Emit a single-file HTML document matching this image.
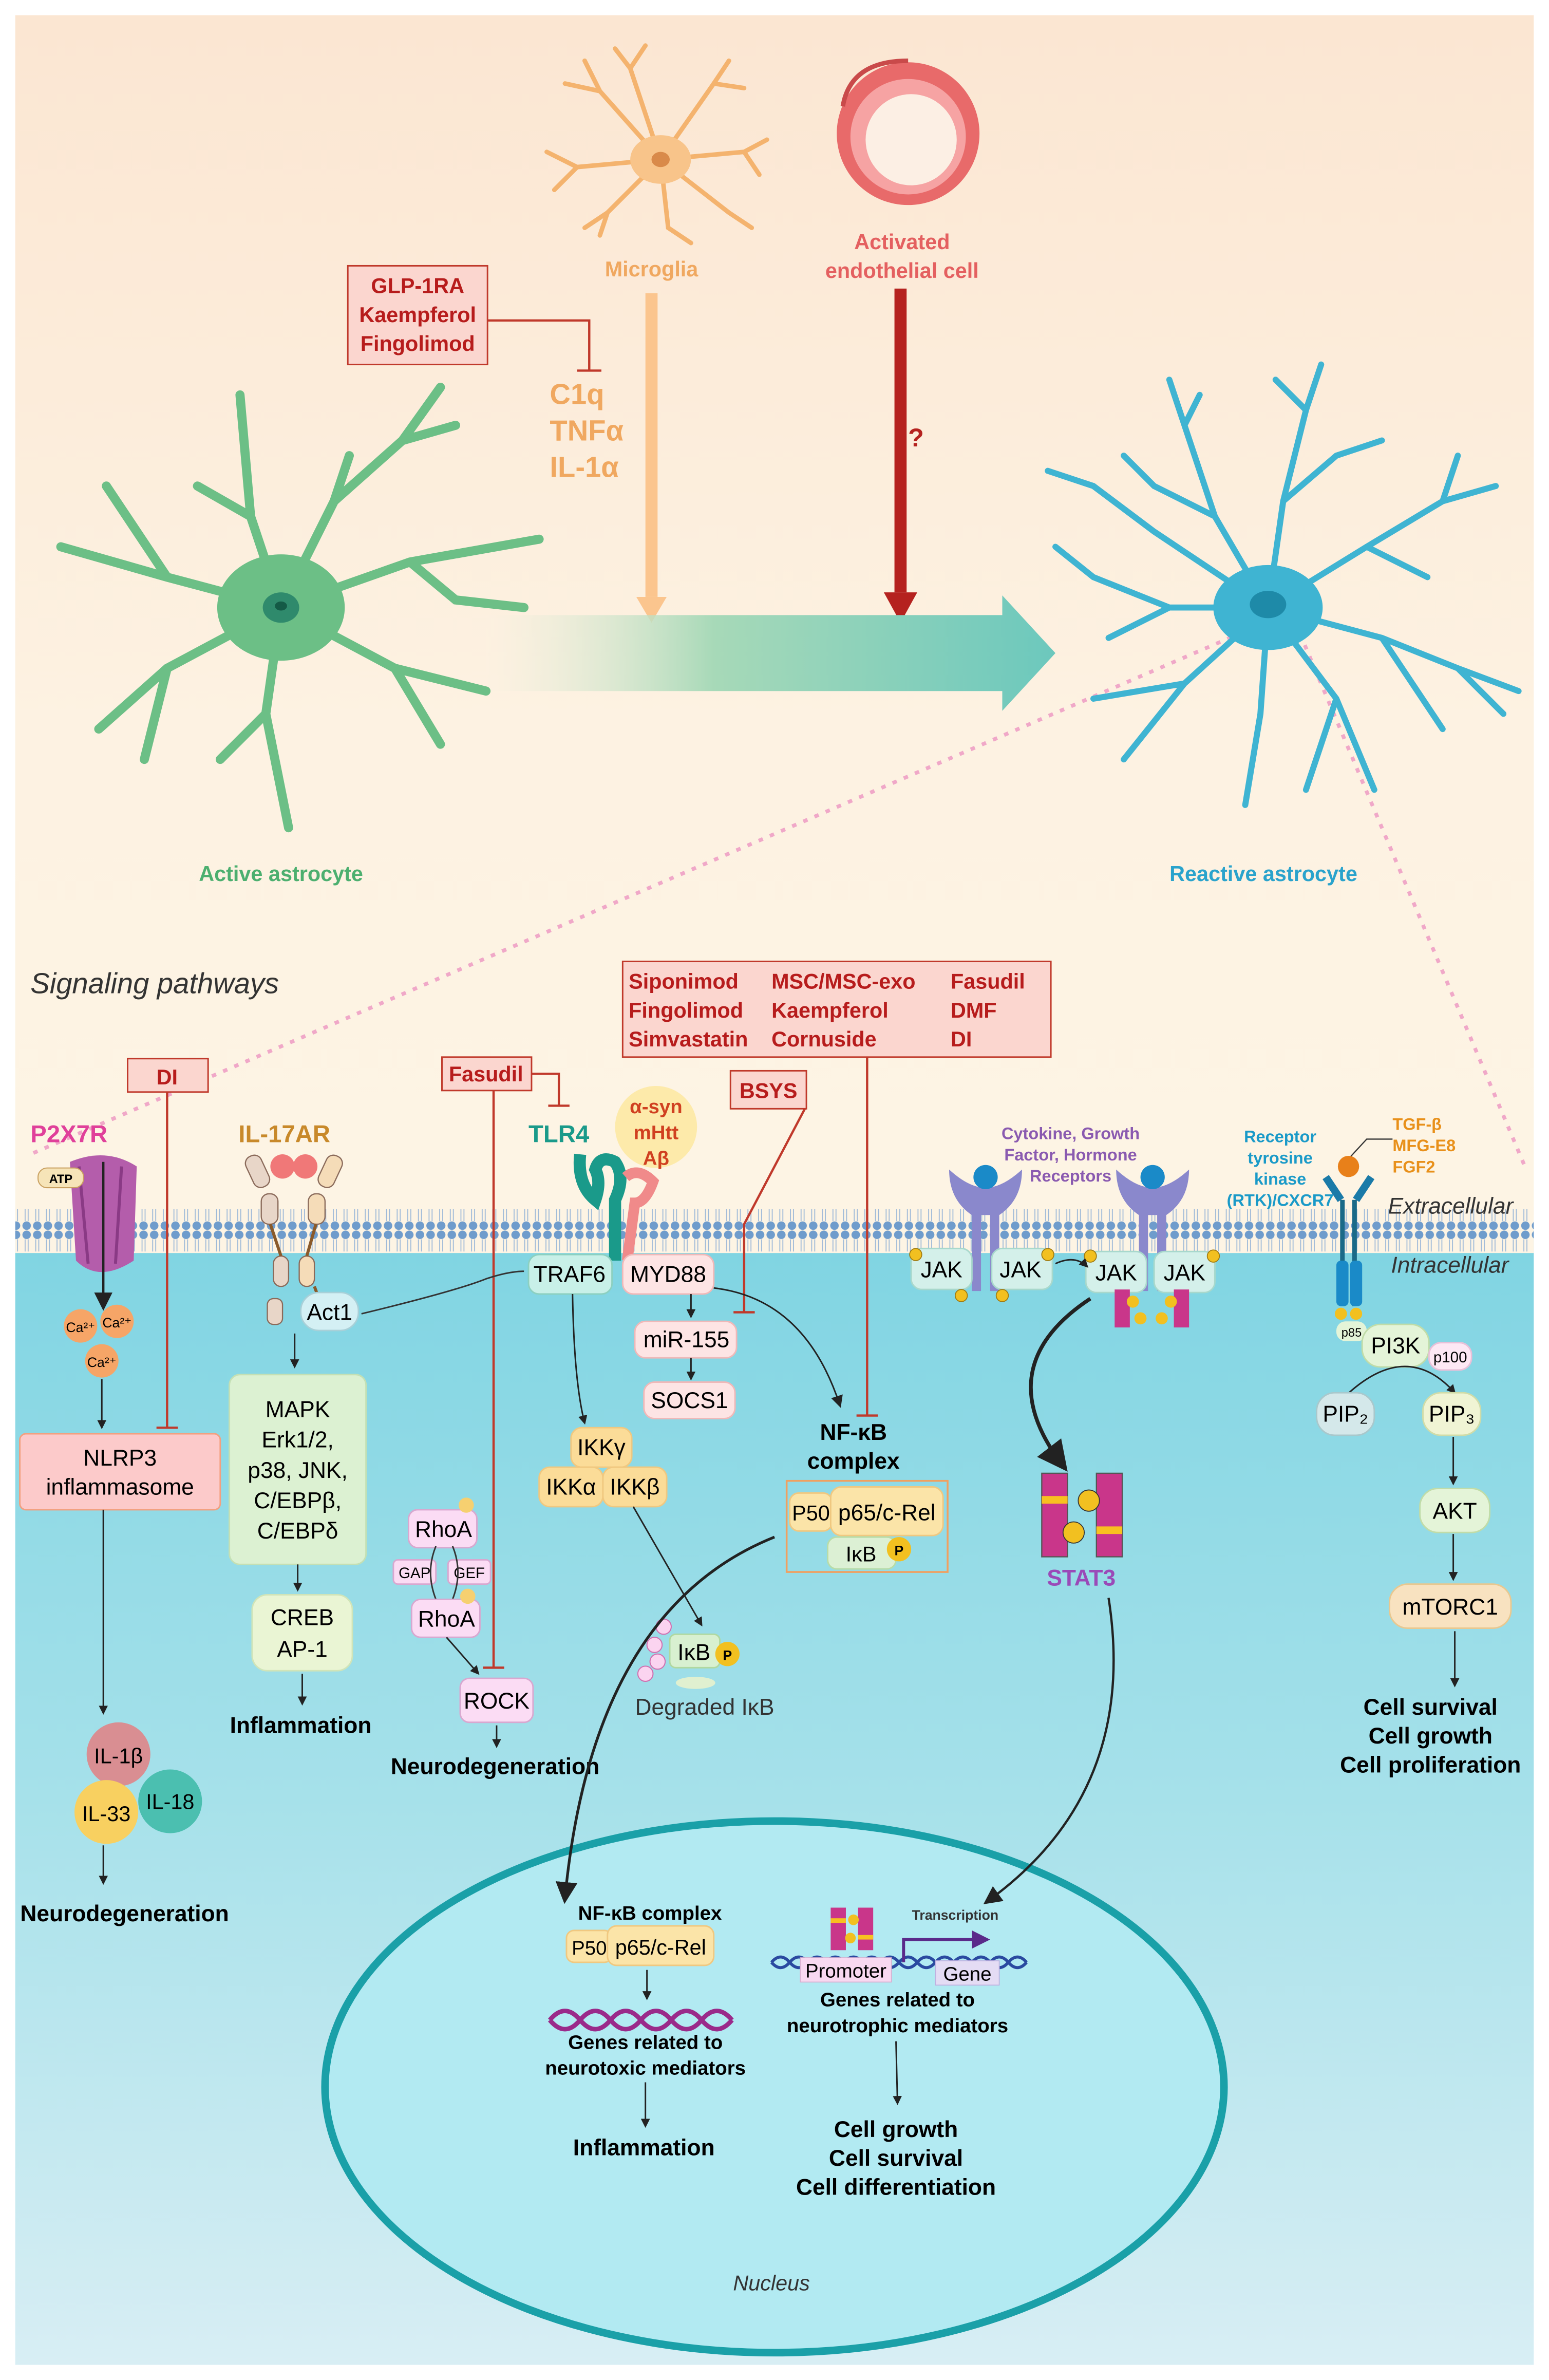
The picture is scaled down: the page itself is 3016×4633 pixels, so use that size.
<!DOCTYPE html>
<html><head><meta charset="utf-8"><style>
html,body{margin:0;padding:0;background:#fff;}
svg{display:block;}
text{font-family:"Liberation Sans",Arial,sans-serif;}
.b{font-weight:bold;}
</style></head><body>
<svg width="3016" height="4633" viewBox="0 0 1020 1567" xmlns="http://www.w3.org/2000/svg">
<defs>
<linearGradient id="bgTop" x1="0" y1="0" x2="0" y2="1">
<stop offset="0" stop-color="#fbe6d2"/><stop offset="0.6" stop-color="#fdf2e2"/><stop offset="1" stop-color="#fdf4e4"/></linearGradient>
<linearGradient id="bgBot" x1="0" y1="0" x2="0" y2="1">
<stop offset="0" stop-color="#7fd4e2"/><stop offset="0.5" stop-color="#a6e1ea"/><stop offset="1" stop-color="#d8eef4"/></linearGradient>
<linearGradient id="bigArr" x1="0" y1="0" x2="1" y2="0">
<stop offset="0" stop-color="#fdf2e2" stop-opacity="0.3"/><stop offset="0.4" stop-color="#a7d9b8"/><stop offset="1" stop-color="#6cc8bd"/></linearGradient>
<marker id="ah" markerWidth="8" markerHeight="8" refX="6" refY="4" orient="auto"><path d="M0,0 L8,4 L0,8 Z" fill="#222"/></marker>
<marker id="ahb" markerWidth="6" markerHeight="6" refX="5" refY="3" orient="auto"><path d="M0,0 L6,3 L0,6 Z" fill="#222"/></marker>
<marker id="ahp" markerWidth="6" markerHeight="6" refX="5" refY="3" orient="auto"><path d="M0,0 L6,3 L0,6 Z" fill="#5a2a8a"/></marker>
<pattern id="lip" width="7" height="30" patternUnits="userSpaceOnUse">
<circle cx="3.5" cy="3" r="2.8" fill="#6f9ccc"/><circle cx="3.5" cy="27" r="2.8" fill="#6f9ccc"/>
<path d="M2.5,6 L2.5,14 M4.5,6 L4.5,14 M2.5,16 L2.5,24 M4.5,16 L4.5,24" stroke="#9cb8d8" stroke-width="0.6"/>
</pattern>
</defs>
<rect width="1020" height="1567" fill="#fff"/>
<rect x="10" y="10" width="1000" height="790" fill="url(#bgTop)"/>
<rect x="10" y="810" width="1000" height="747" fill="url(#bgBot)"/>
<rect x="10" y="795" width="1000" height="30" fill="#fdf4e4"/>
<rect x="10" y="795" width="1000" height="30" fill="url(#lip)"/>

<path d="M833,410 L20,760" stroke="#f0a8c8" stroke-width="2.5" stroke-dasharray="3,5" fill="none"/>
<path d="M853,410 L1005,770" stroke="#f0a8c8" stroke-width="2.5" stroke-dasharray="3,5" fill="none"/>
<rect x="817" y="388" width="35" height="32" fill="#c8c8ea" opacity="0.6" stroke="#e39acb" stroke-dasharray="2,2"/>

<g stroke="#f4b36e" stroke-width="3" fill="none" stroke-linecap="round">
<path d="M435,105 L395,60 L385,40 M395,60 L372,55 M435,105 L415,45 L405,32 M415,45 L425,30 M435,105 L470,55 L480,40 M470,55 L490,58 M435,105 L490,100 L505,92 M490,100 L500,115 M435,105 L480,140 L495,150 M435,105 L400,140 L385,150 M400,140 L395,155 M435,105 L380,110 L360,100 M380,110 L365,125 M435,105 L440,150 L455,160"/>
</g>
<ellipse cx="435" cy="105" rx="20" ry="16" fill="#f8c48a"/>
<ellipse cx="435" cy="105" rx="6" ry="5" fill="#d98a4a"/>
<text x="429" y="182" font-size="14" fill="#f0a860" text-anchor="middle" class="b">Microglia</text>
<ellipse cx="598" cy="88" rx="47" ry="47" fill="#e86a6a"/>
<ellipse cx="598" cy="90" rx="38" ry="38" fill="#f6a3a3"/>
<ellipse cx="600" cy="92" rx="30" ry="30" fill="#fcefe4"/>
<path d="M555,70 Q560,40 598,40" stroke="#c94a4a" stroke-width="3" fill="none"/>
<text x="594" y="164" font-size="14" fill="#e46060" text-anchor="middle" class="b">Activated</text>
<text x="594" y="183" font-size="14" fill="#e46060" text-anchor="middle" class="b">endothelial cell</text>
<rect x="229" y="175" width="92" height="65" fill="#fbd6cf" stroke="#c0392b" stroke-width="1"/>
<text x="275" y="193" font-size="14" fill="#b71c1c" text-anchor="middle" class="b">GLP-1RA</text>
<text x="275" y="212" font-size="14" fill="#b71c1c" text-anchor="middle" class="b">Kaempferol</text>
<text x="275" y="231" font-size="14" fill="#b71c1c" text-anchor="middle" class="b">Fingolimod</text>
<path d="M321,211 L388,211 L388,244 M380,244 L396,244" stroke="#c0392b" stroke-width="1.5" fill="none"/>
<text x="362" y="266" font-size="19" fill="#f0a860" class="b">C1q</text>
<text x="362" y="290" font-size="19" fill="#f0a860" class="b">TNFα</text>
<text x="362" y="314" font-size="19" fill="#f0a860" class="b">IL-1α</text>
<rect x="425" y="193" width="8" height="200" fill="#fbc58e"/>
<path d="M419,393 L439,393 L429,410 Z" fill="#fbc58e"/>
<rect x="589" y="190" width="8" height="200" fill="#b5221f"/>
<path d="M582,390 L604,390 L593,410 Z" fill="#b5221f"/>
<text x="598" y="294" font-size="17" fill="#b5221f" class="b">?</text>
<path d="M320,405 L660,405 L660,392 L695,430 L660,468 L660,455 L320,455 Z" fill="url(#bigArr)"/>

<g stroke="#6cbf86" stroke-linecap="round" fill="none">
<path d="M185,400 L165,340 L158,260 M165,340 L130,320 M185,400 L220,330 L265,290 L300,280 M265,290 L290,255 M220,330 L230,300 M185,400 L270,370 L355,355 M270,370 L300,395 L345,400 M185,400 L260,440 L290,490 M260,440 L320,455 M185,400 L175,470 L190,545 M175,470 L145,500 M185,400 L110,440 L65,480 M110,440 L95,500 M185,400 L110,380 L40,360 M110,380 L70,320" stroke-width="6"/>
</g>
<ellipse cx="185" cy="400" rx="42" ry="35" fill="#6cbf86"/>
<ellipse cx="185" cy="400" rx="12" ry="10" fill="#2f8a6c"/>
<ellipse cx="185" cy="399" rx="4" ry="3" fill="#145a46"/>
<text x="185" y="580" font-size="14" fill="#4caf6f" text-anchor="middle" class="b">Active astrocyte</text>

<g stroke="#3fb4d2" stroke-linecap="round" fill="none" stroke-width="4">
<path d="M835,400 L800,340 L780,280 L770,250 M800,340 L760,320 L740,300 M780,280 L790,260 M835,400 L845,330 L860,270 L870,240 M845,330 L880,300 L910,290 M860,270 L840,250 M835,400 L900,360 L950,330 L985,320 M900,360 L940,380 M950,330 L960,300 M835,400 L910,420 L960,440 L1000,455 M910,420 L950,480 M960,440 L990,470 M835,400 L880,460 L905,520 M880,460 L860,520 M835,400 L830,470 L820,530 M835,400 L780,450 L740,500 M780,450 L720,460 M835,400 L770,400 L720,380 L695,360 M770,400 L730,420 M835,400 L760,350 L720,320 L690,310 M760,350 L740,335"/>
</g>
<ellipse cx="835" cy="400" rx="36" ry="28" fill="#3fb4d2"/>
<ellipse cx="835" cy="398" rx="12" ry="9" fill="#1e8aa8"/>
<text x="832" y="580" font-size="14" fill="#2aa3cc" text-anchor="middle" class="b">Reactive astrocyte</text>

<text x="20" y="654" font-size="19" fill="#333" font-style="italic">Signaling pathways</text>

<rect x="410" y="633" width="282" height="63" fill="#fbd6cf" stroke="#c0392b" stroke-width="1"/>
<g font-size="14" fill="#b71c1c" font-weight="bold">
<text x="414" y="651">Siponimod</text><text x="414" y="670">Fingolimod</text><text x="414" y="689">Simvastatin</text>
<text x="508" y="651">MSC/MSC-exo</text><text x="508" y="670">Kaempferol</text><text x="508" y="689">Cornuside</text>
<text x="626" y="651">Fasudil</text><text x="626" y="670">DMF</text><text x="626" y="689">DI</text>
</g>
<path d="M571,696 L571,932 M564,932 L578,932" stroke="#c0392b" stroke-width="1.5"/>
<rect x="84" y="697" width="53" height="22" fill="#fbd6cf" stroke="#c0392b"/>
<text x="110" y="714" font-size="14" fill="#b71c1c" text-anchor="middle" class="b">DI</text>
<path d="M110,719 L110,940 M103,940 L117,940" stroke="#c0392b" stroke-width="1.5"/>
<rect x="291" y="696" width="59" height="22" fill="#fbd6cf" stroke="#c0392b"/>
<text x="320" y="712" font-size="14" fill="#b71c1c" text-anchor="middle" class="b">Fasudil</text>
<path d="M325,718 L325,1098 M318,1098 L332,1098" stroke="#c0392b" stroke-width="1.5"/>
<path d="M350,707 L368,707 L368,728 M361,728 L375,728" stroke="#c0392b" stroke-width="1.5" fill="none"/>
<rect x="481" y="705" width="50" height="25" fill="#fbd6cf" stroke="#c0392b"/>
<text x="506" y="723" font-size="14" fill="#b71c1c" text-anchor="middle" class="b">BSYS</text>
<path d="M530,730 L490,806 L490,864 M483,864 L497,864" stroke="#c0392b" stroke-width="1.5" fill="none"/>

<text x="20" y="752" font-size="16" fill="#e0409a" class="b">P2X7R</text>
<path d="M46,765 Q70,755 90,768 L88,830 Q65,845 50,830 Z" fill="#b45dab"/>
<path d="M52,768 L58,832 M80,768 L76,832" stroke="#8a3a85" stroke-width="2"/>
<rect x="25" y="769" width="30" height="13" rx="6" fill="#f6e4b8" stroke="#c9a060" stroke-width="0.7"/>
<text x="40" y="779" font-size="8" text-anchor="middle" class="b">ATP</text>
<path d="M68,765 L68,860" stroke="#222" stroke-width="1.5" marker-end="url(#ah)"/>
<circle cx="53" cy="873" r="11" fill="#f6a567"/><circle cx="77" cy="870" r="11" fill="#f6a567"/><circle cx="67" cy="896" r="11" fill="#f6a567"/>
<text x="53" y="877" font-size="9" text-anchor="middle">Ca²⁺</text><text x="77" y="874" font-size="9" text-anchor="middle">Ca²⁺</text><text x="67" y="900" font-size="9" text-anchor="middle">Ca²⁺</text>
<path d="M67,908 L67,940" stroke="#222" marker-end="url(#ahb)"/>
<rect x="13" y="944" width="132" height="50" rx="4" fill="#fccaca" stroke="#f2a080"/>
<text x="79" y="965" font-size="15" text-anchor="middle">NLRP3</text>
<text x="79" y="984" font-size="15" text-anchor="middle">inflammasome</text>
<path d="M68,994 L68,1128" stroke="#222" marker-end="url(#ahb)"/>
<circle cx="78" cy="1155" r="21" fill="#d98e92"/>
<circle cx="112" cy="1186" r="21" fill="#4bbfb0"/>
<circle cx="70" cy="1193" r="21" fill="#f8d060"/>
<text x="78" y="1161" font-size="14" text-anchor="middle">IL-1β</text>
<text x="112" y="1191" font-size="14" text-anchor="middle">IL-18</text>
<text x="70" y="1199" font-size="14" text-anchor="middle">IL-33</text>
<path d="M68,1215 L68,1240" stroke="#222" marker-end="url(#ahb)"/>
<text x="82" y="1265" font-size="15" text-anchor="middle" class="b">Neurodegeneration</text>

<text x="157" y="752" font-size="16" fill="#c8892a" class="b">IL-17AR</text>
<g fill="#e8d6c8" stroke="#8a6a5a" stroke-width="0.8">
<rect x="164" y="760" width="11" height="22" rx="5" transform="rotate(-25 170 771)"/>
<rect x="212" y="760" width="11" height="22" rx="5" fill="#f5dcb8" transform="rotate(25 217 771)"/>
<rect x="172" y="786" width="11" height="20" rx="5"/>
<rect x="203" y="786" width="11" height="20" rx="5" fill="#f5dcb8"/>
<rect x="180" y="827" width="10" height="20" rx="5"/>
<rect x="197" y="827" width="10" height="20" rx="5" fill="#f5dcb8"/>
<rect x="176" y="855" width="10" height="17" rx="4"/>
</g>
<circle cx="186" cy="768" r="8" fill="#f07878"/><circle cx="201" cy="768" r="8" fill="#f07878"/>
<path d="M178,806 L185,827 M208,806 L202,827 M207,847 L210,855" stroke="#8a5a2a" stroke-width="2"/>
<rect x="198" y="851" width="38" height="25" rx="12" fill="#d4f0f4" stroke="#a8d0d8"/>
<text x="217" y="869" font-size="15" text-anchor="middle">Act1</text>
<path d="M194,878 L194,900" stroke="#222" marker-end="url(#ahb)"/>
<rect x="151" y="905" width="90" height="125" rx="7" fill="#dcf1d2" stroke="#c4e0b4"/>
<g font-size="15" text-anchor="middle"><text x="196" y="933">MAPK</text><text x="196" y="953">Erk1/2,</text><text x="196" y="973">p38, JNK,</text><text x="196" y="993">C/EBPβ,</text><text x="196" y="1013">C/EBPδ</text></g>
<path d="M196,1030 L196,1047" stroke="#222" marker-end="url(#ahb)"/>
<rect x="166" y="1050" width="66" height="50" rx="10" fill="#eaf5d4" stroke="#d0e4b8"/>
<text x="199" y="1070" font-size="15" text-anchor="middle">CREB</text><text x="199" y="1091" font-size="15" text-anchor="middle">AP-1</text>
<path d="M199,1102 L199,1122" stroke="#222" marker-end="url(#ahb)"/>
<text x="198" y="1141" font-size="15" text-anchor="middle" class="b">Inflammation</text>
<path d="M238,865 Q300,850 320,842 Q335,837 345,837" stroke="#333" fill="none"/>

<text x="348" y="752" font-size="16" fill="#1a9a8a" class="b">TLR4</text>
<circle cx="432" cy="742" r="27" fill="#fde7a0" opacity="0.85"/>
<text x="432" y="733" font-size="13" fill="#d04020" text-anchor="middle" class="b">α-syn</text>
<text x="432" y="750" font-size="13" fill="#d04020" text-anchor="middle" class="b">mHtt</text>
<text x="432" y="767" font-size="13" fill="#d04020" text-anchor="middle" class="b">Aβ</text>
<path d="M382,760 Q380,780 392,790 Q396,778 392,770 Q395,760 405,765 Q412,775 405,790 L405,830" stroke="#1a9a8a" stroke-width="8" fill="none"/>
<path d="M412,775 Q420,768 430,778 Q425,792 418,792 L413,830" stroke="#f08a8a" stroke-width="7" fill="none"/>
<rect x="348" y="826" width="55" height="26" rx="7" fill="#c8f0e8" stroke="#8cd0c0"/>
<text x="375" y="844" font-size="15" text-anchor="middle">TRAF6</text>
<rect x="410" y="826" width="60" height="26" rx="7" fill="#fde4e4" stroke="#f0b8b8"/>
<text x="440" y="844" font-size="15" text-anchor="middle">MYD88</text>
<path d="M455,852 L455,867" stroke="#222" marker-end="url(#ahb)"/>
<rect x="418" y="870" width="67" height="24" rx="7" fill="#fde4e4" stroke="#f0b8b8"/>
<text x="452" y="887" font-size="15" text-anchor="middle">miR-155</text>
<path d="M455,894 L455,908" stroke="#222" marker-end="url(#ahb)"/>
<rect x="424" y="910" width="60" height="24" rx="7" fill="#fde4e4" stroke="#f0b8b8"/>
<text x="454" y="927" font-size="15" text-anchor="middle">SOCS1</text>
<path d="M470,848 Q530,855 553,925" stroke="#222" fill="none" marker-end="url(#ah)"/>
<path d="M377,852 Q378,910 385,937" stroke="#222" fill="none" marker-end="url(#ahb)"/>
<rect x="376" y="940" width="40" height="26" rx="7" fill="#fbdc98" stroke="#f0c880"/>
<text x="396" y="958" font-size="15" text-anchor="middle">IKKγ</text>
<rect x="355" y="966" width="42" height="26" rx="7" fill="#fbdc98" stroke="#f0c880"/>
<rect x="397" y="966" width="42" height="26" rx="7" fill="#fbdc98" stroke="#f0c880"/>
<text x="376" y="984" font-size="15" text-anchor="middle">IKKα</text><text x="418" y="984" font-size="15" text-anchor="middle">IKKβ</text>
<path d="M417,992 L462,1070" stroke="#222" fill="none" marker-end="url(#ahb)"/>
<rect x="441" y="1076" width="33" height="22" rx="4" fill="#d8f0d0" stroke="#b0d8a0"/>
<text x="457" y="1093" font-size="15" text-anchor="middle">IκB</text>
<circle cx="479" cy="1089" r="8" fill="#f2c020"/><text x="479" y="1093" font-size="9" text-anchor="middle" class="b">P</text>
<g fill="#fbd4f0" stroke="#d070b0" stroke-width="0.7"><circle cx="437" cy="1071" r="5"/><circle cx="431" cy="1083" r="5"/><circle cx="433" cy="1094" r="5"/><circle cx="425" cy="1102" r="5"/></g>
<ellipse cx="458" cy="1108" rx="13" ry="4" fill="#e0f0d0"/>
<text x="464" y="1129" font-size="15" text-anchor="middle" fill="#333">Degraded IκB</text>

<rect x="269" y="994" width="45" height="25" rx="6" fill="#fbdcf4" stroke="#d8a8d0"/>
<text x="292" y="1012" font-size="15" text-anchor="middle">RhoA</text>
<circle cx="307" cy="991" r="5" fill="#f6d070"/>
<rect x="259" y="1027" width="28" height="16" rx="3" fill="#fbdcf4" stroke="#d8a8d0"/>
<text x="273" y="1039" font-size="10" text-anchor="middle">GAP</text>
<rect x="295" y="1027" width="28" height="16" rx="3" fill="#fbdcf4" stroke="#d8a8d0"/>
<text x="309" y="1039" font-size="10" text-anchor="middle">GEF</text>
<path d="M287,1053 Q280,1035 287,1018 M298,1018 Q305,1035 298,1053" stroke="#333" fill="none"/>
<rect x="271" y="1053" width="45" height="25" rx="6" fill="#fbdcf4" stroke="#d8a8d0"/>
<text x="294" y="1071" font-size="15" text-anchor="middle">RhoA</text>
<circle cx="308" cy="1051" r="5" fill="#f6d070"/>
<path d="M294,1078 L315,1102" stroke="#222" marker-end="url(#ahb)"/>
<rect x="303" y="1105" width="48" height="29" rx="6" fill="#fbdcf4" stroke="#d8a8d0"/>
<text x="327" y="1125" font-size="15" text-anchor="middle">ROCK</text>
<path d="M327,1136 L327,1150" stroke="#222" marker-end="url(#ahb)"/>
<text x="326" y="1168" font-size="15" text-anchor="middle" class="b">Neurodegeneration</text>

<text x="562" y="948" font-size="15" text-anchor="middle" class="b">NF-κB</text>
<text x="562" y="967" font-size="15" text-anchor="middle" class="b">complex</text>
<rect x="518" y="975" width="106" height="60" fill="none" stroke="#f0a060" stroke-width="1.2"/>
<rect x="520" y="983" width="28" height="25" rx="6" fill="#fbe4a8" stroke="#f0c880"/>
<text x="534" y="1001" font-size="14" text-anchor="middle">P50</text>
<rect x="547" y="979" width="74" height="32" rx="7" fill="#fbe4a8" stroke="#f0c880"/>
<text x="584" y="1001" font-size="15" text-anchor="middle">p65/c-Rel</text>
<rect x="545" y="1012" width="45" height="21" rx="6" fill="#dcf0d4" stroke="#b8dca8"/>
<text x="567" y="1028" font-size="14" text-anchor="middle">IκB</text>
<circle cx="592" cy="1020" r="8" fill="#f2c020"/><text x="592" y="1024" font-size="9" text-anchor="middle" class="b">P</text>

<text x="705" y="750" font-size="11" fill="#8a5ab0" text-anchor="middle" class="b">Cytokine, Growth</text>
<text x="705" y="764" font-size="11" fill="#8a5ab0" text-anchor="middle" class="b">Factor, Hormone</text>
<text x="705" y="778" font-size="11" fill="#8a5ab0" text-anchor="middle" class="b">Receptors</text>
<g fill="#8a88cc">
<path d="M625,770 Q625,790 640,800 L640,850 L646,850 L646,800 L652,800 L652,850 L658,850 L658,800 Q673,790 673,770 Q660,782 649,782 Q638,782 625,770 Z"/>
<path d="M735,770 Q735,790 750,800 L750,850 L756,850 L756,800 L762,800 L762,850 L768,850 L768,800 Q783,790 783,770 Q770,782 759,782 Q748,782 735,770 Z"/>
</g>
<circle cx="649" cy="775" r="8" fill="#1a8ac8"/><circle cx="759" cy="775" r="8" fill="#1a8ac8"/>
<g fill="#d4f0ea" stroke="#a8d8cc"><rect x="600" y="822" width="40" height="27" rx="7"/><rect x="653" y="822" width="40" height="27" rx="7"/><rect x="715" y="824" width="40" height="27" rx="7"/><rect x="760" y="824" width="40" height="27" rx="7"/></g>
<g font-size="15" text-anchor="middle"><text x="620" y="841">JAK</text><text x="672" y="841">JAK</text><text x="735" y="843">JAK</text><text x="780" y="843">JAK</text></g>
<g fill="#f2c020" stroke="#a07a10" stroke-width="0.6"><circle cx="603" cy="826" r="4"/><circle cx="690" cy="826" r="4"/><circle cx="718" cy="827" r="4"/><circle cx="799" cy="827" r="4"/><circle cx="633" cy="853" r="4"/><circle cx="660" cy="853" r="4"/></g>
<path d="M695,832 Q708,826 716,834" stroke="#222" fill="none" marker-end="url(#ahb)"/>
<rect x="734" y="849" width="10" height="25" fill="#c9368a"/><rect x="773" y="849" width="10" height="25" fill="#c9368a"/>
<g fill="#f2c020"><circle cx="746" cy="857" r="4"/><circle cx="771" cy="857" r="4"/><circle cx="751" cy="868" r="4"/><circle cx="765" cy="868" r="4"/></g>
<path d="M718,855 Q650,900 700,965" stroke="#222" stroke-width="2.5" fill="none" marker-end="url(#ah)"/>
<rect x="686" y="970" width="17" height="55" fill="#c9368a" stroke="#555" stroke-width="0.8"/>
<rect x="722" y="970" width="17" height="55" fill="#c9368a" stroke="#555" stroke-width="0.8"/>
<rect x="686" y="985" width="17" height="5" fill="#f8c020"/><rect x="722" y="1005" width="17" height="5" fill="#f8c020"/>
<circle cx="717" cy="988" r="7" fill="#f2c020" stroke="#333" stroke-width="0.6"/><circle cx="707" cy="1009" r="7" fill="#f2c020" stroke="#333" stroke-width="0.6"/>
<text x="712" y="1044" font-size="15" fill="#9a4ab8" text-anchor="middle" class="b">STAT3</text>

<text x="843" y="752" font-size="11" fill="#1a9ac8" text-anchor="middle" class="b">Receptor</text>
<text x="843" y="766" font-size="11" fill="#1a9ac8" text-anchor="middle" class="b">tyrosine</text>
<text x="843" y="780" font-size="11" fill="#1a9ac8" text-anchor="middle" class="b">kinase</text>
<text x="843" y="794" font-size="11" fill="#1a9ac8" text-anchor="middle" class="b">(RTK)/CXCR7</text>
<text x="917" y="744" font-size="11" fill="#e8901a" class="b">TGF-β</text>
<text x="917" y="758" font-size="11" fill="#e8901a" class="b">MFG-E8</text>
<text x="917" y="772" font-size="11" fill="#e8901a" class="b">FGF2</text>
<path d="M888,763 L900,750 L917,750" stroke="#333" fill="none" stroke-width="0.8"/>
<path d="M873,775 L883,790 M903,775 L893,790" stroke="#1a7aa8" stroke-width="5"/>
<path d="M884,790 L884,860 M892,790 L892,860" stroke="#1a6a88" stroke-width="3"/>
<rect x="880" y="830" width="8" height="30" rx="3" fill="#1a8ac8"/><rect x="889" y="830" width="8" height="30" rx="3" fill="#1a8ac8"/>
<circle cx="888" cy="768" r="7" fill="#e8801a"/>
<circle cx="883" cy="865" r="4" fill="#f2c020"/><circle cx="893" cy="865" r="4" fill="#f2c020"/>
<text x="914" y="799" font-size="15" fill="#333" font-style="italic">Extracellular</text>
<text x="916" y="838" font-size="15" fill="#333" font-style="italic">Intracellular</text>
<rect x="880" y="870" width="20" height="13" rx="6" fill="#e4f4d8"/><text x="890" y="880" font-size="8" text-anchor="middle">p85</text>
<rect x="897" y="872" width="44" height="28" rx="12" fill="#e4f4d8" stroke="#c0dca8"/>
<text x="919" y="891" font-size="15" text-anchor="middle">PI3K</text>
<rect x="941" y="884" width="28" height="18" rx="8" fill="#fde8f4" stroke="#e8c0d8"/>
<text x="955" y="897" font-size="10" text-anchor="middle">p100</text>
<path d="M883,922 Q925,880 958,917" stroke="#222" fill="none" marker-end="url(#ahb)"/>
<rect x="867" y="917" width="38" height="28" rx="12" fill="#d4e8ea" stroke="#a8c8cc"/>
<text x="886" y="936" font-size="15" text-anchor="middle">PIP₂</text>
<rect x="937" y="917" width="38" height="28" rx="12" fill="#f0f4d4" stroke="#d0dca8"/>
<text x="956" y="936" font-size="15" text-anchor="middle">PIP₃</text>
<path d="M957,946 L957,977" stroke="#222" marker-end="url(#ahb)"/>
<rect x="935" y="980" width="46" height="29" rx="12" fill="#e4f4d8" stroke="#c0dca8"/>
<text x="958" y="1000" font-size="15" text-anchor="middle">AKT</text>
<path d="M957,1010 L957,1040" stroke="#222" marker-end="url(#ahb)"/>
<rect x="915" y="1043" width="80" height="29" rx="12" fill="#f8e2c0" stroke="#e8c890"/>
<text x="955" y="1063" font-size="15" text-anchor="middle">mTORC1</text>
<path d="M958,1074 L958,1110" stroke="#222" marker-end="url(#ahb)"/>
<g font-size="15" class="b" text-anchor="middle"><text x="942" y="1129">Cell survival</text><text x="942" y="1148">Cell growth</text><text x="942" y="1167">Cell proliferation</text></g>

<!-- Nucleus -->
<ellipse cx="510" cy="1374" rx="296" ry="175" fill="#b2eaf2" stroke="#1aa0a8" stroke-width="5"/>
<text x="508" y="1508" font-size="14" fill="#333" font-style="italic" text-anchor="middle">Nucleus</text>
<!-- long arrows into nucleus (drawn over) -->
<path d="M510,1012 Q390,1060 372,1250" stroke="#222" stroke-width="1.8" fill="none" marker-end="url(#ah)"/>
<path d="M730,1052 Q750,1180 650,1252" stroke="#222" stroke-width="1.5" fill="none" marker-end="url(#ah)"/>
<text x="428" y="1264" font-size="13" text-anchor="middle" class="b">NF-κB complex</text>
<rect x="373" y="1271" width="30" height="21" rx="5" fill="#fbe4a8" stroke="#f0c880"/>
<text x="388" y="1287" font-size="13" text-anchor="middle">P50</text>
<rect x="400" y="1268" width="70" height="26" rx="6" fill="#fbe4a8" stroke="#f0c880"/>
<text x="435" y="1287" font-size="14" text-anchor="middle">p65/c-Rel</text>
<path d="M426,1297 L426,1316" stroke="#222" marker-end="url(#ahb)"/>
<path d="M362,1330 q10,-12 20,0 t20,0 t20,0 t20,0 t20,0 t20,0 M362,1330 q10,12 20,0 t20,0 t20,0 t20,0 t20,0 t20,0" stroke="#9a2a8a" stroke-width="3" fill="none"/>
<text x="425" y="1349" font-size="13" text-anchor="middle" class="b">Genes related to</text>
<text x="425" y="1366" font-size="13" text-anchor="middle" class="b">neurotoxic mediators</text>
<path d="M425,1371 L425,1400" stroke="#222" marker-end="url(#ahb)"/>
<text x="424" y="1419" font-size="15" text-anchor="middle" class="b">Inflammation</text>
<rect x="547" y="1256" width="10" height="28" fill="#c9368a"/><rect x="565" y="1256" width="10" height="28" fill="#c9368a"/>
<rect x="547" y="1263" width="10" height="3" fill="#f8c020"/><rect x="565" y="1274" width="10" height="3" fill="#f8c020"/>
<circle cx="562" cy="1264" r="3.5" fill="#f2c020"/><circle cx="560" cy="1276" r="3.5" fill="#f2c020"/>
<path d="M508,1292 q6,-7 12,0 t12,0 t12,0 t12,0 t12,0 t12,0 t12,0 t12,0 t12,0 t12,0 t12,0 t12,0 t12,0 t12,0 M508,1292 q6,7 12,0 t12,0 t12,0 t12,0 t12,0 t12,0 t12,0 t12,0 t12,0 t12,0 t12,0 t12,0 t12,0 t12,0" stroke="#2a4aa0" stroke-width="2" fill="none"/>
<path d="M595,1292 L595,1277 L650,1277" stroke="#5a2a8a" stroke-width="2" fill="none" marker-end="url(#ahp)"/>
<text x="629" y="1264" font-size="9" text-anchor="middle" class="b" fill="#333">Transcription</text>
<rect x="527" y="1289" width="60" height="16" fill="#f8d8f0" stroke="#d8b0d0" stroke-width="0.6"/>
<text x="557" y="1302" font-size="13" text-anchor="middle">Promoter</text>
<rect x="616" y="1291" width="42" height="16" fill="#e4dcf4" stroke="#c0b0e0" stroke-width="0.6"/>
<text x="637" y="1304" font-size="13" text-anchor="middle">Gene</text>
<text x="591" y="1321" font-size="13" text-anchor="middle" class="b">Genes related to</text>
<text x="591" y="1338" font-size="13" text-anchor="middle" class="b">neurotrophic mediators</text>
<path d="M590,1344 L591,1385" stroke="#222" marker-end="url(#ahb)"/>
<g font-size="15" class="b" text-anchor="middle"><text x="590" y="1407">Cell growth</text><text x="590" y="1426">Cell survival</text><text x="590" y="1445">Cell differentiation</text></g>
</svg>
</body></html>
